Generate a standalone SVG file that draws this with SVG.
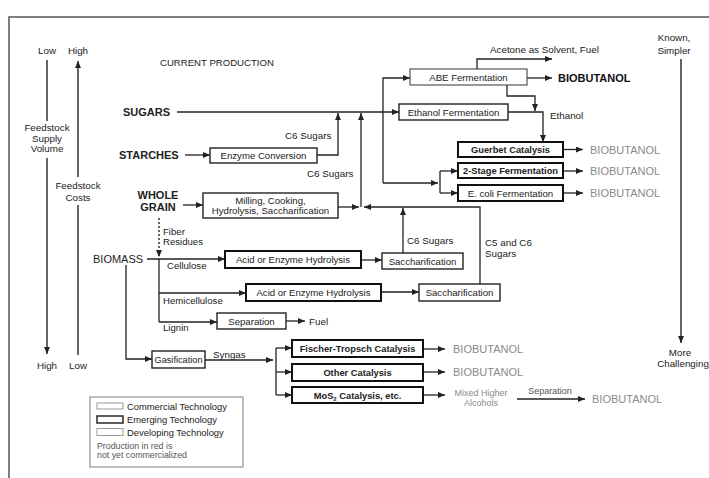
<svg xmlns="http://www.w3.org/2000/svg" width="709" height="478" viewBox="0 0 709 478">
<defs>
<marker id="ah" markerWidth="7" markerHeight="6" refX="7" refY="3" orient="auto" markerUnits="userSpaceOnUse"><path d="M0,0 L7,3 L0,6 z" fill="#222"/></marker>
<style>
text{font-family:"Liberation Sans",Arial,sans-serif;fill:#222}
.t{font-size:9.6px}
.tb{font-size:9.3px;font-weight:bold}
.lab{font-size:9.8px}
.big{font-size:11px;font-weight:bold}
.gray{font-size:11px;fill:#8a8a8a}
.m{text-anchor:middle}
.bx{fill:#fff;stroke:#222;stroke-width:1.4}
.bxe{fill:#fff;stroke:#111;stroke-width:2}
.bxc{fill:#fff;stroke:#444;stroke-width:1.1}
.c{fill:none;stroke:#222;stroke-width:1.3}
.a{marker-end:url(#ah)}
.ax{fill:none;stroke:#333;stroke-width:1.5}
</style>
</defs>
<rect width="709" height="478" fill="#fff"/>
<g id="frame"><path d="M9,478 V17 H709" fill="none" stroke="#555" stroke-width="1.5"/></g>

<g id="axis-left">
<text class="lab m" x="47" y="54">Low</text>
<text class="lab m" x="78" y="54">High</text>
<line class="ax" x1="47" y1="60" x2="47" y2="121"/>
<text class="lab m" x="47" y="131">Feedstock</text>
<text class="lab m" x="47" y="142">Supply</text>
<text class="lab m" x="47" y="152">Volume</text>
<line class="ax a" x1="47" y1="158" x2="47" y2="354"/>
<line class="ax a" x1="78" y1="177" x2="78" y2="61"/>
<text class="lab m" x="78" y="189">Feedstock</text>
<text class="lab m" x="78" y="201">Costs</text>
<line class="ax" x1="78" y1="205" x2="78" y2="355"/>
<text class="lab m" x="47" y="369">High</text>
<text class="lab m" x="78" y="369">Low</text>
</g>

<g id="axis-right">
<text class="lab m" x="674" y="41">Known,</text>
<text class="lab m" x="674" y="54">Simpler</text>
<line class="ax a" x1="681" y1="59" x2="681" y2="343"/>
<text class="lab m" x="680" y="356">More</text>
<text class="lab m" x="683" y="367">Challenging</text>
</g>

<text id="title" class="t" x="160" y="66">CURRENT PRODUCTION</text>

<g id="sources">
<text class="big" x="123" y="116">SUGARS</text>
<text class="big" x="119" y="159">STARCHES</text>
<text class="big m" x="158" y="199">WHOLE</text>
<text class="big m" x="158" y="211">GRAIN</text>
<text x="93" y="263" style="font-size:11px">BIOMASS</text>
</g>

<g id="connectors">
<line class="c a" x1="177" y1="112" x2="399" y2="112"/>
<line class="c a" x1="185" y1="155" x2="210" y2="155"/>
<polyline class="c a" points="317,155 338,155 338,113"/>
<line class="c a" x1="183" y1="205" x2="203" y2="205"/>
<line class="c a" x1="338" y1="207" x2="359" y2="207"/>
<polyline class="c a" points="480,284 480,207 364,207"/>
<line class="c a" x1="361" y1="207" x2="361" y2="113"/>
<line class="c a" x1="403" y1="253" x2="403" y2="208"/>
<line x1="159" y1="218" x2="159" y2="257" stroke="#222" stroke-width="1.4" stroke-dasharray="2,2" marker-end="url(#ah)"/>
<line class="c a" x1="147" y1="259" x2="225" y2="259"/>
<line class="c" x1="159" y1="259" x2="159" y2="322"/>
<line class="c a" x1="159" y1="293" x2="246" y2="293"/>
<line class="c a" x1="159" y1="322" x2="217" y2="322"/>
<line class="c a" x1="361" y1="260" x2="382" y2="260"/>
<line class="c a" x1="381" y1="292" x2="419" y2="292"/>
<line class="c a" x1="286" y1="321" x2="305" y2="321"/>
<polyline class="c a" points="126,265 126,359 152,359"/>
<line class="c a" x1="205" y1="360" x2="273" y2="360"/>
<line class="c" x1="276" y1="348" x2="276" y2="395"/>
<line class="c a" x1="276" y1="348" x2="292" y2="348"/>
<line class="c a" x1="276" y1="372" x2="292" y2="372"/>
<line class="c a" x1="276" y1="395" x2="292" y2="395"/>
<line class="c a" x1="423" y1="349" x2="445" y2="349"/>
<line class="c a" x1="423" y1="372" x2="445" y2="372"/>
<line class="c a" x1="423" y1="395" x2="445" y2="395"/>
<line class="c a" x1="517" y1="399" x2="585" y2="399"/>
<polyline class="c a" points="383,183 383,78 410,78"/>
<polyline class="c a" points="477,69 477,59 552,59"/>
<line class="c a" x1="527" y1="78" x2="552" y2="78"/>
<polyline class="c a" points="507,85 507,96 535,96 535,111"/>
<polyline class="c a" points="508,112 543,112 543,142"/>
<line class="c a" x1="563" y1="149.5" x2="583" y2="149.5"/>
<line class="c a" x1="563" y1="171" x2="583" y2="171"/>
<line class="c a" x1="563" y1="193" x2="583" y2="193"/>
<line class="c a" x1="383" y1="183" x2="438" y2="183"/>
<line class="c" x1="440" y1="171" x2="440" y2="193"/>
<line class="c a" x1="440" y1="171" x2="458" y2="171"/>
<line class="c a" x1="440" y1="193" x2="458" y2="193"/>
</g>

<g id="labels">
<text class="lab" x="285" y="139">C6 Sugars</text>
<text class="lab" x="307" y="177">C6 Sugars</text>
<text class="lab" x="407" y="244">C6 Sugars</text>
<text class="lab" x="485" y="246">C5 and C6</text>
<text class="lab" x="485" y="257">Sugars</text>
<text class="t" x="163" y="235">Fiber</text>
<text class="t" x="163" y="245">Residues</text>
<text class="t" x="167" y="269">Cellulose</text>
<text class="t" x="163" y="304">Hemicellulose</text>
<text class="t" x="163" y="331">Lignin</text>
<text class="lab" x="309" y="324.5">Fuel</text>
<text class="lab" x="213" y="358">Syngas</text>
<text class="lab" x="490" y="53">Acetone as Solvent, Fuel</text>
<text class="lab" x="550" y="119">Ethanol</text>
<text class="m" x="550" y="394" style="font-size:9px;fill:#555">Separation</text>
<text class="m" x="481" y="396" style="font-size:9px;fill:#8a8a8a">Mixed Higher</text>
<text class="m" x="481" y="406" style="font-size:9px;fill:#8a8a8a">Alcohols</text>
</g>

<g id="products">
<text x="558" y="82" style="font-size:11px;font-weight:bold;fill:#111">BIOBUTANOL</text>
<text class="gray" x="590" y="153.5">BIOBUTANOL</text>
<text class="gray" x="590" y="175">BIOBUTANOL</text>
<text class="gray" x="590" y="197">BIOBUTANOL</text>
<text class="gray" x="453" y="353">BIOBUTANOL</text>
<text class="gray" x="453" y="376">BIOBUTANOL</text>
<text class="gray" x="592" y="403">BIOBUTANOL</text>
</g>

<g id="n-enzyme"><rect class="bx" x="210" y="148" width="107" height="15"/><text class="t m" x="263.5" y="159">Enzyme Conversion</text></g>
<g id="n-milling"><rect class="bx" x="203" y="193" width="135" height="25"/><text class="t m" x="270.5" y="204">Milling, Cooking,</text><text class="t m" x="270.5" y="213.5">Hydrolysis, Saccharification</text></g>
<g id="n-abe"><rect class="bxc" x="410" y="69" width="117" height="16"/><text class="t m" x="468.5" y="80.5">ABE Fermentation</text></g>
<g id="n-ethanol"><rect class="bx" x="399" y="104" width="109" height="16"/><text class="t m" x="453.5" y="115.5">Ethanol Fermentation</text></g>
<g id="n-guerbet"><rect class="bxe" x="458" y="142" width="105" height="15"/><text class="tb m" x="510.5" y="153">Guerbet Catalysis</text></g>
<g id="n-2stage"><rect class="bxe" x="458" y="163" width="105" height="15"/><text class="tb m" x="510.5" y="174">2-Stage Fermentation</text></g>
<g id="n-ecoli"><rect class="bxe" x="458" y="185" width="105" height="16"/><text class="t m" x="510.5" y="196.5">E. coli Fermentation</text></g>
<g id="n-acid1"><rect class="bxe" x="225" y="251" width="136" height="17"/><text class="t m" x="293" y="263">Acid or Enzyme Hydrolysis</text></g>
<g id="n-sacch1"><rect class="bx" x="382" y="253" width="81" height="16"/><text class="t m" x="422.5" y="264.5">Saccharification</text></g>
<g id="n-acid2"><rect class="bxe" x="246" y="284" width="135" height="17"/><text class="t m" x="313.5" y="296">Acid or Enzyme Hydrolysis</text></g>
<g id="n-sacch2"><rect class="bx" x="419" y="284" width="81" height="17"/><text class="t m" x="459.5" y="296">Saccharification</text></g>
<g id="n-separation"><rect class="bx" x="217" y="313" width="69" height="16"/><text class="t m" x="251.5" y="324.5">Separation</text></g>
<g id="n-gasification"><rect class="bx" x="152" y="351" width="53" height="17"/><text class="m" x="178.5" y="362.5" style="font-size:9.2px">Gasification</text></g>
<g id="n-fischer"><rect class="bxe" x="292" y="340" width="131" height="17"/><text class="tb m" x="357.5" y="352">Fischer-Tropsch Catalysis</text></g>
<g id="n-other"><rect class="bxe" x="292" y="364" width="131" height="17"/><text class="tb m" x="357.5" y="375.5">Other Catalysis</text></g>
<g id="n-mos2"><rect class="bxe" x="292" y="387" width="131" height="16"/><text class="tb m" x="357.5" y="398.5">MoS<tspan dy="2" style="font-size:6px">2</tspan><tspan dy="-2"> Catalysis, etc.</tspan></text></g>

<g id="legend">
<rect x="90" y="397" width="153" height="70" fill="#fff" stroke="#888" stroke-width="1.1"/>
<rect x="97" y="403" width="26" height="6" fill="none" stroke="#999" stroke-width="1"/>
<rect x="97" y="416" width="26" height="7" fill="none" stroke="#333" stroke-width="1.6"/>
<rect x="97" y="428.5" width="26" height="7" fill="none" stroke="#999" stroke-width="1"/>
<text x="127" y="409.5" style="font-size:9.4px">Commercial Technology</text>
<text x="127" y="422.5" style="font-size:9.4px">Emerging Technology</text>
<text x="127" y="435.5" style="font-size:9.4px">Developing Technology</text>
<text x="97" y="449" style="font-size:8.8px;fill:#555">Production in red is</text>
<text x="97" y="458" style="font-size:8.8px;fill:#555">not yet commercialized</text>
</g>
</svg>
